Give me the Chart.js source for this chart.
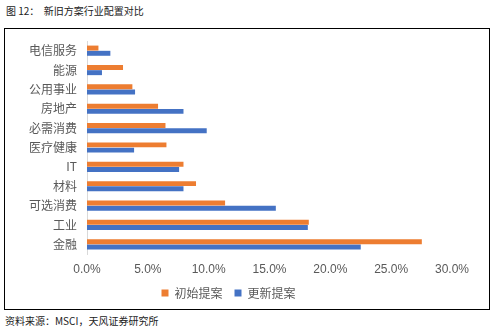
<!DOCTYPE html>
<html>
<head>
<meta charset="utf-8">
<script src="https://cdn.jsdelivr.net/npm/chart.js@4"></script>
<style>
  body { margin: 0; background: #fff; width: 495px; height: 333px; position: relative; overflow: hidden;
         font-family: "Noto Sans CJK SC", "Noto Sans", sans-serif; }
  #titulo { position: absolute; left: 6px; top: 3px; font-size: 10px; color: #222; white-space: pre; }
  #marco { position: absolute; left: 4px; top: 28px; width: 484px; height: 280px; border: 1px solid #000; }
  #fuente { position: absolute; left: 5px; top: 313px; font-size: 10px; color: #222; }
</style>
</head>
<body>
<div id="titulo">图 12：  新旧方案行业配置对比</div>
<div id="marco"><canvas id="grafico" width="484" height="280"></canvas></div>
<div id="fuente">资料来源：MSCI，天风证券研究所</div>
<script>
// datos (%)
const categorias = ["电信服务", "能源", "公用事业", "房地产", "必需消费", "医疗健康", "IT", "材料", "可选消费", "工业", "金融"];
const inicial = [0.94, 2.96, 3.73, 5.84, 6.45, 6.53, 7.93, 8.96, 11.35, 18.23, 27.52];
const actualizado = [1.92, 1.23, 3.95, 7.93, 9.84, 3.87, 7.57, 7.93, 15.52, 18.15, 22.5];
const series = ["初始提案", "更新提案"];

const ctx = document.getElementById("grafico").getContext("2d");

let chart = new Chart(ctx, {
    type: "bar",
    data: {
        labels: categorias,
        datasets: [
            { label: series[0], data: inicial, backgroundColor: "#ED7D31" },
            { label: series[1], data: actualizado, backgroundColor: "#4472C4" }
        ]
    },
    options: {
        indexAxis: "y",
        responsive: false,
        animation: false,
        datasets: { bar: { categoryPercentage: 0.54, barPercentage: 0.95 } },
        layout: { padding: { top: 12, right: 37, bottom: 0, left: 0 } },
        scales: {
            x: {
                min: 0, max: 30,
                grid: { display: false, drawTicks: false },
                border: { display: false },
                ticks: {
                    stepSize: 5, padding: 8, color: "#595959",
                    font: { size: 12, family: "Liberation Sans, Arial, sans-serif" },
                    callback: v => v.toFixed(1) + "%"
                },
                afterFit: s => { s.height = 21; }
            },
            y: {
                grid: { display: false, drawTicks: false },
                border: { display: true, color: "#D9D9D9" },
                ticks: { padding: 10, color: "#595959", font: { size: 12, family: "Noto Sans CJK SC" } },
                afterFit: s => { s.width = 82; s.paddingTop = 0; s.paddingBottom = 0; }
            }
        },
        plugins: {
            legend: {
                position: "bottom",
                labels: { boxWidth: 7, boxHeight: 7, padding: 12, color: "#595959",
                          font: { size: 12, family: "Noto Sans CJK SC" } }
            },
            tooltip: { enabled: false }
        }
    }
});
</script>
</body>
</html>
